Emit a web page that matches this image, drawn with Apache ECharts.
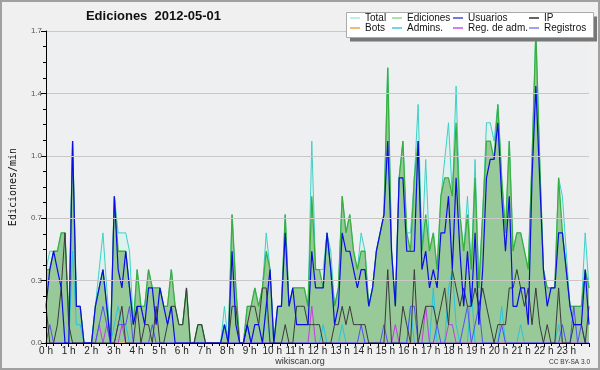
<!DOCTYPE html>
<html><head><meta charset="utf-8">
<script src="https://cdn.jsdelivr.net/npm/echarts@6/dist/echarts.min.js"></script>
<style>html,body{margin:0;padding:0;background:#f0f0f0}#c{width:600px;height:370px}</style>
</head><body><div id="c"></div>
<script>
const hourLabels = ['0 h','1 h','2 h','3 h','4 h','5 h','6 h','7 h','8 h','9 h','10 h','11 h','12 h','13 h','14 h','15 h','16 h','17 h','18 h','19 h','20 h','21 h','22 h','23 h'];
const yTicks = [0, 0.34, 0.68, 1.02, 1.36, 1.7];

const total = [
0.4,0.5,0.5,0.5,0.6,0.6,0.1,1.1,0.2,0.2,
0,0,0,0.2,0.4,0.6,0.3,0,0.8,0.6,
0.6,0.6,0.5,0.1,0.4,0.2,0.2,0.4,0.3,0.3,
0.3,0.2,0.2,0.4,0.2,0.1,0.1,0.3,0,0,
0.1,0.1,0,0,0,0,0,0.2,0,0.7,
0.3,0,0,0.2,0.2,0.3,0.2,0.3,0.6,0.4,
0,0.2,0.2,0.7,0.2,0.3,0.3,0.3,0.3,0.2,
1.1,0.4,0.4,0.4,0.6,0.5,0.2,0.3,0.8,0.6,
0.7,0.5,0.4,0.6,0.5,0.2,0.3,0.5,0.6,0.7,
1.5,0.5,0.2,0.9,1.1,0.6,0.6,0.9,1.3,0.5,
1.0,0.5,0.6,0.4,0.8,1.0,1.2,0.8,1.4,0.7,
0.5,0.8,0.4,1.0,0.3,0.7,1.2,1.2,1.1,1.3,
0.9,0.6,1.1,0.5,0.6,0.6,0.5,0.4,1.0,1.7,
1.0,0.4,0.3,0.3,0.3,0.9,0.8,0.5,0.2,0.2,
0.2,0.2,0.6,0.3];

const ediciones = [
0.4,0.4,0.5,0.5,0.6,0.6,0.1,1.1,0.2,0.2,
0,0,0,0.2,0.3,0.4,0.2,0,0.8,0.5,
0.5,0.5,0.3,0.1,0.4,0.2,0.2,0.4,0.3,0.3,
0.3,0.2,0.2,0.4,0.2,0.1,0.1,0.3,0,0,
0.1,0.1,0,0,0,0,0,0.1,0,0.7,
0.3,0,0,0.2,0.2,0.3,0.2,0.3,0.5,0.4,
0,0.2,0.2,0.7,0.2,0.3,0.3,0.3,0.3,0.2,
0.8,0.4,0.4,0.3,0.6,0.4,0.2,0.3,0.8,0.6,
0.7,0.5,0.4,0.5,0.5,0.2,0.3,0.5,0.6,0.7,
1.5,0.5,0.2,0.9,1.1,0.6,0.5,0.9,1.1,0.5,
0.7,0.5,0.6,0.4,0.8,0.9,0.9,0.8,1.2,0.7,
0.5,0.7,0.4,0.9,0.3,0.7,1.1,1.1,1.0,1.3,
0.9,0.6,1.1,0.5,0.6,0.6,0.5,0.4,1.0,1.7,
1.0,0.4,0.3,0.3,0.3,0.9,0.6,0.4,0.2,0.2,
0.2,0.2,0.4,0.3];

const usuarios = [
0.2,0.4,0.5,0.4,0.3,0,0,1.1,0.2,0.2,
0,0,0,0.2,0.3,0.4,0.2,0,0.8,0.4,
0.3,0.5,0.3,0.1,0.2,0.2,0.1,0.3,0.3,0.1,
0.3,0.2,0.1,0.2,0,0,0,0,0,0,
0,0,0,0,0,0,0,0.1,0,0.5,
0.1,0,0,0.1,0,0.1,0.1,0,0.2,0.4,
0,0.2,0.2,0.6,0.2,0.3,0.1,0.1,0.1,0.1,
0.5,0.3,0.3,0.3,0.6,0.4,0.1,0.2,0.6,0.5,
0.5,0.4,0.3,0.4,0.4,0.2,0.3,0.5,0.6,0.7,
1.1,0.5,0.2,0.9,0.9,0.5,0.5,0.5,1.1,0.4,
0.5,0.3,0.4,0.3,0.6,0.6,0.8,0.4,0.9,0.5,
0.2,0.5,0.2,0.6,0.1,0.4,0.9,1.0,1.0,1.2,
0.8,0.5,0.8,0.2,0.2,0.3,0.3,0.1,0.9,1.4,
0.9,0.4,0.2,0.3,0.3,0.6,0.6,0.4,0.2,0.1,
0.1,0.1,0.4,0.1];

const ip = [
0.2,0,0,0.1,0.3,0.6,0.1,0,0,0,
0,0,0,0,0,0,0,0,0,0.1,
0.2,0,0,0,0.2,0,0.1,0.1,0,0.2,
0,0,0.1,0.2,0.2,0.1,0.1,0.3,0,0,
0.1,0.1,0,0,0,0,0,0,0,0.2,
0.2,0,0,0.1,0.2,0.2,0.1,0.3,0.3,0,
0,0,0,0.1,0,0,0.2,0.2,0.2,0.1,
0.1,0.1,0.1,0,0,0,0.1,0.1,0.2,0.1,
0.2,0.1,0.1,0.1,0.1,0,0,0,0,0,
0.4,0,0,0,0.2,0.1,0,0.4,0,0.1,
0.2,0.2,0.2,0.1,0.2,0.3,0.1,0.4,0.3,0.2,
0.3,0.2,0.2,0.3,0.2,0.3,0.2,0.1,0,0.1,
0.1,0.1,0.3,0.3,0.4,0.3,0.2,0.3,0.1,0.3,
0.1,0,0.1,0,0,0.3,0,0,0,0.1,
0.1,0.1,0,0.2];

const bots = [
0,0,0,0,0,0,0,0,0,0, 0,0,0,0,0,0,0,0,0,0, 0,0,0,0,0,0,0,0,0,0,
0,0,0,0,0,0,0,0,0,0, 0,0,0,0,0,0,0,0,0,0, 0,0,0,0,0,0,0,0,0,0,
0,0,0,0,0,0,0,0,0,0, 0,0,0,0,0,0,0,0,0,0, 0,0,0,0,0,0,0,0,0,0,
0,0,0,0,0,0,0,0,0,0, 0,0,0,0,0,0,0,0,0,0, 0,0,0,0,0,0,0,0,0,0,
0,0,0,0,0,0,0,0,0,0, 0,0,0,0,0,0,0,0,0,0, 0,0,0,0];

const admins = [
0,0,0,0,0,0,0,0.5,0.1,0.1,
0,0,0,0,0,0,0,0,0.1,0.2,
0.1,0.1,0,0,0,0,0,0,0,0,
0,0,0,0,0,0,0,0,0,0,
0,0,0,0,0,0,0,0.1,0,0,
0,0,0,0,0,0,0,0,0.2,0,
0,0,0,0,0,0,0,0,0,0,
0,0,0,0.1,0,0,0,0,0.1,0,
0,0,0,0,0,0,0,0,0,0,
0,0,0,0,0,0,0.2,0,0,0,
0,0,0.3,0,0,0,0.3,0.4,0.1,0,
0,0,0.3,0,0,0,0,0,0,0,
0.2,0,0,0,0,0.1,0,0,0,0,
0,0,0,0,0,0.1,0,0,0,0,
0,0,0,0];

const regAdm = [
0,0,0,0,0,0,0,0,0,0,
0,0,0,0,0.1,0,0.1,0,0,0,
0.1,0,0,0,0,0,0,0,0,0,
0,0,0,0,0,0,0,0,0,0,
0,0,0,0,0,0,0,0,0,0,
0,0,0,0,0,0,0,0,0,0,
0,0,0,0,0,0,0,0,0,0,
0.2,0,0,0,0,0,0,0,0,0,
0,0,0,0,0,0,0,0,0,0,
0,0,0.1,0,0,0,0,0,0,0,
0.2,0,0,0,0,0,0.1,0.1,0,0,
0,0,0,0,0,0,0,0,0,0,
0,0,0,0,0,0,0,0,0,0,
0,0,0,0,0,0,0,0,0,0,
0,0,0,0];

const registros = [
0,0.1,0,0,0,0,0,0,0,0,
0,0,0,0,0.1,0.2,0.1,0,0,0.1,
0.1,0.1,0.2,0,0,0,0,0,0.1,0,
0,0,0,0,0,0,0,0,0,0,
0,0,0,0,0,0,0,0,0,0,
0,0,0,0.1,0,0,0,0,0,0,
0,0,0,0,0,0,0,0,0,0,
0,0,0,0,0,0,0,0,0,0,
0,0,0,0.1,0,0,0,0,0,0.1,
0,0,0,0,0,0,0.2,0.2,0,0,
0,0,0,0.1,0,0,0,0,0,0,
0.1,0.2,0,0.1,0.2,0,0,0,0,0,
0.1,0,0,0,0,0,0,0,0,0,
0,0,0,0,0,0,0.1,0,0,0.2,
0,0.1,0,0];

const times = [];
for (let i = 0; i < total.length; i++) {
  const m = i * 10;
  times.push(String(Math.floor(m / 60)).padStart(2, '0') + ':' + String(m % 60).padStart(2, '0'));
}

const FONT = '"Liberation Sans", Arial, sans-serif';

function mk(name, data, color, width, z, fill) {
  const s = {
    name, type: 'line', data, xAxisIndex: 0, yAxisIndex: 0,
    symbol: 'none', silent: true, z,
    lineStyle: { color, width },
    itemStyle: { color }
  };
  if (fill) s.areaStyle = { color: fill, opacity: 1 };
  return s;
}

const legendCols = [
  { left: 350, items: [['Total', '#a8e8e0'], ['Bots', '#f0a040']] },
  { left: 392, items: [['Ediciones', '#90d890'], ['Admins.', '#40c8e0']] },
  { left: 453, items: [['Usuarios', '#4848e0'], ['Reg. de adm.', '#d050e0']] },
  { left: 529, items: [['IP', '#303030'], ['Registros', '#8080f0']] }
];

const chart = echarts.init(document.getElementById('c'), null, { renderer: 'canvas' });
chart.setOption({
  animation: false,
  backgroundColor: '#f0f0f0',
  grid: { left: 46, right: 11, top: 31, bottom: 27, show: true, backgroundColor: '#eeeff1', borderWidth: 0,
          containLabel: false, outerBoundsMode: 'none' },
  xAxis: [
    { type: 'category', data: times, boundaryGap: false, show: false },
    { type: 'value', min: 0, max: 24, interval: 1, position: 'bottom', z: 10,
      axisLine: { show: true, lineStyle: { color: '#000', width: 1 } },
      axisTick: { show: true, length: 4, lineStyle: { color: '#000' } },
      minorTick: { show: true, splitNumber: 3, length: 3, lineStyle: { color: '#000' } },
      splitLine: { show: false },
      axisLabel: { fontSize: 10, color: '#222', fontFamily: FONT, margin: 3,
        formatter: v => (v < hourLabels.length ? hourLabels[v] : '') } }
  ],
  yAxis: {
    type: 'value', min: yTicks[0], max: yTicks[yTicks.length - 1], interval: yTicks[1], z: 10,
    axisLine: { show: true, lineStyle: { color: '#000', width: 1 } },
    axisTick: { show: true, length: 5, lineStyle: { color: '#000' } },
    minorTick: { show: true, splitNumber: 4, length: 3, lineStyle: { color: '#000' } },
    splitLine: { show: true, lineStyle: { color: '#c8c8c8', width: 1 } },
    axisLabel: { fontSize: 8, color: '#555', fontFamily: FONT, margin: 4, formatter: v => v.toFixed(1) },
    name: 'Ediciones/min', nameLocation: 'middle', nameGap: 28, nameRotate: 90,
    nameTextStyle: { fontSize: 10, color: '#111', fontFamily: '"DejaVu Sans Mono", monospace' }
  },
  legend: legendCols.map(c => ({
    orient: 'vertical', left: c.left, top: 13, z: 20, selectedMode: false,
    icon: 'rect', itemWidth: 10, itemHeight: 1.5, itemGap: 0, padding: 0,
    textStyle: { fontSize: 10, lineHeight: 10, color: '#111', fontFamily: FONT },
    data: c.items.map(([n, col]) => ({ name: n, itemStyle: { color: col } }))
  })),
  graphic: [
    { type: 'rect', z: 0, silent: true, shape: { x: 1, y: 1, width: 598, height: 368 }, style: { fill: 'none', stroke: '#a0a0a0', lineWidth: 2 } },
    { type: 'rect', z: 15, silent: true, shape: { x: 350, y: 16.5, width: 247, height: 25 }, style: { fill: '#777' } },
    { type: 'rect', z: 16, silent: true, shape: { x: 346.5, y: 12.5, width: 247, height: 25 }, style: { fill: '#fff', stroke: '#aaa', lineWidth: 1 } },
    { type: 'text', z: 16, silent: true, x: 153.5, y: 16, style: { text: 'Ediciones  2012-05-01', font: 'bold 13px ' + FONT, fill: '#111', textAlign: 'center', textVerticalAlign: 'middle' } },
    { type: 'text', z: 16, silent: true, x: 300, y: 361.5, style: { text: 'wikiscan.org', font: '9px ' + FONT, fill: '#333', textAlign: 'center', textVerticalAlign: 'middle' } },
    { type: 'text', z: 16, silent: true, x: 590, y: 362, style: { text: 'CC BY-SA 3.0', font: '6.5px ' + FONT, fill: '#333', textAlign: 'right', textVerticalAlign: 'middle' } }
  ],
  series: [
    mk('Total', total, '#3ed0c6', 1, 2, '#ddf2ee'),
    mk('Ediciones', ediciones, '#38b040', 1.3, 3, '#98c998'),
    mk('Bots', bots, '#f0a040', 1, 4),
    mk('Admins.', admins, '#28c4e0', 1, 5),
    mk('Reg. de adm.', regAdm, '#c040e0', 1, 6),
    mk('Registros', registros, '#5252f2', 1, 7),
    mk('IP', ip, '#3a3a3a', 1, 8),
    mk('Usuarios', usuarios, '#0c0ce6', 1.2, 9)
  ]
});
</script></body></html>
